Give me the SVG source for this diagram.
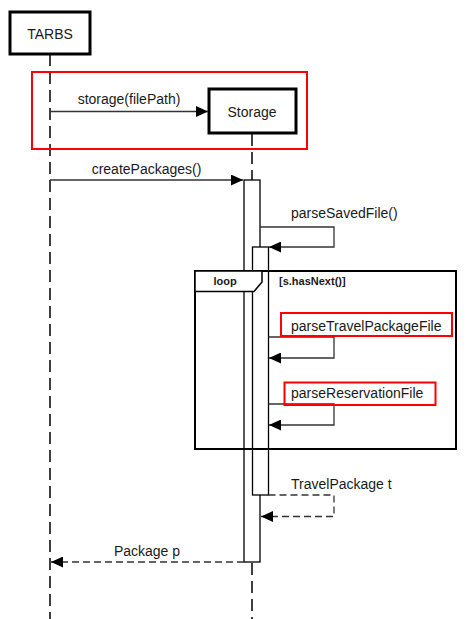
<svg xmlns="http://www.w3.org/2000/svg" width="472" height="619" viewBox="0 0 472 619">
<defs>
<marker id="ah" markerUnits="userSpaceOnUse" markerWidth="13" markerHeight="11" refX="12" refY="5.5" orient="auto">
<path d="M0,0 L12,5.5 L0,11 z" fill="#000"/>
</marker>
<style>
text{font-family:"Liberation Sans",Arial,sans-serif;font-size:14px;fill:#1a1a1a}
.actor{fill:#fff;stroke:#000;stroke-width:3}
.life{stroke:#000;stroke-width:1.5;stroke-dasharray:12 6;fill:none}
.act{fill:#fff;stroke:#000;stroke-width:1.3}
.msg{stroke:#333;stroke-width:1.3;fill:none}
.ret{stroke:#333;stroke-width:1.3;fill:none;stroke-dasharray:7 4}
.red{fill:none;stroke:#f00;stroke-width:2}
.frame{fill:none;stroke:#000;stroke-width:2}
.bold{font-weight:bold;font-size:11px}
</style>
</defs>
<rect width="472" height="619" fill="#fff"/>
<g id="lifelines">
<line class="life" x1="50" y1="54" x2="50" y2="619"/>
<line class="life" x1="252" y1="134" x2="252" y2="180"/>
<line class="life" x1="252" y1="563" x2="252" y2="619"/>
</g>
<g id="highlight-storage">
<rect class="red" x="32" y="72" width="275" height="77"/>
</g>
<g id="TARBS">
<rect class="actor" x="10" y="12" width="80" height="42"/>
<text x="50" y="39" text-anchor="middle">TARBS</text>
</g>
<g id="Storage">
<rect class="actor" x="209" y="89" width="87" height="44"/>
<text x="252" y="117" text-anchor="middle">Storage</text>
</g>
<g id="activation-outer">
<rect class="act" x="244" y="180" width="16" height="382"/>
</g>
<g id="activation-inner">
<rect class="act" x="252.5" y="247" width="16" height="248"/>
</g>
<g id="loop-frame">
<rect class="frame" x="195" y="271" width="261" height="178"/>
<path d="M195,271 L262,271 L262,282 L254,291.5 L195,291.5 Z" fill="#fff" stroke="#000" stroke-width="1.5"/>
<text class="bold" x="225" y="284.5" text-anchor="middle">loop</text>
<text class="bold" x="279" y="284.5">[s.hasNext()]</text>
</g>
<g id="connectors">
<line class="msg" x1="50" y1="111.5" x2="208" y2="111.5" marker-end="url(#ah)"/>
<text x="129" y="104" text-anchor="middle">storage(filePath)</text>
<line class="msg" x1="50" y1="180" x2="243" y2="180" marker-end="url(#ah)"/>
<text x="146.5" y="174" text-anchor="middle">createPackages()</text>
<polyline class="msg" points="260,227 334,227 334,247 269,247" marker-end="url(#ah)"/>
<text x="291" y="218">parseSavedFile()</text>
<polyline class="msg" points="268.5,337 334,337 334,358 269,358" marker-end="url(#ah)"/>
<rect class="red" x="281" y="313" width="171" height="23"/>
<text x="291" y="331">parseTravelPackageFile</text>
<polyline class="msg" points="268.5,404 334,404 334,425 269,425" marker-end="url(#ah)"/>
<rect class="red" x="284.5" y="382.5" width="151" height="22.5"/>
<text x="291" y="397.5">parseReservationFile</text>
<polyline class="ret" points="268.5,495 334,495 334,516.5 261,516.5" marker-end="url(#ah)"/>
<text x="291" y="489">TravelPackage t</text>
<line class="ret" x1="244" y1="562" x2="51" y2="562" marker-end="url(#ah)"/>
<text x="147" y="555.5" text-anchor="middle">Package p</text>
</g>
</svg>
